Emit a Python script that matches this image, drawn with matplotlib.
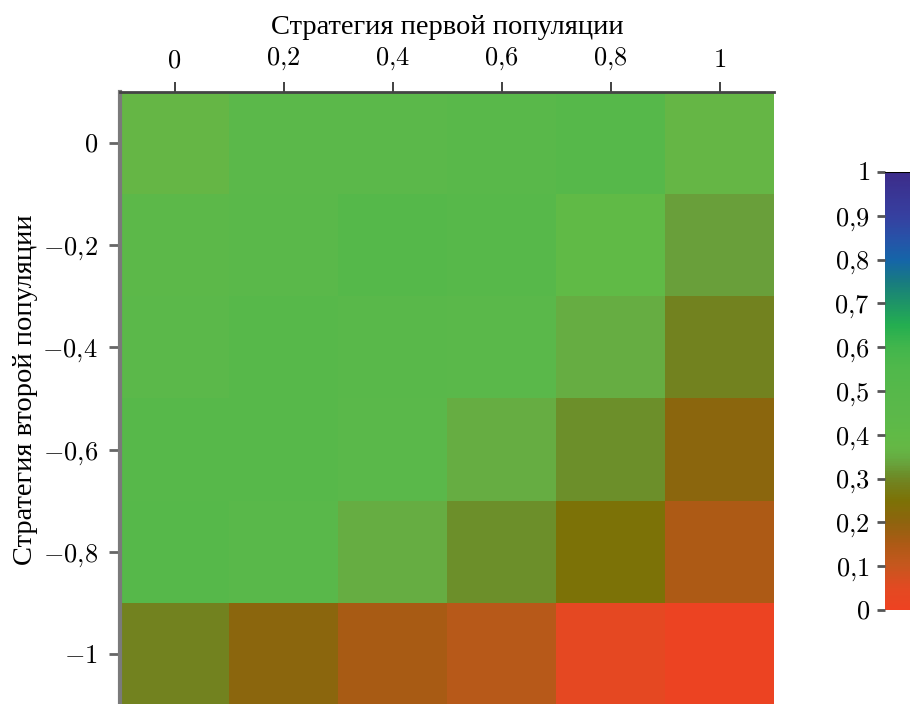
import numpy as np
import matplotlib
matplotlib.use("Agg")
import matplotlib.pyplot as plt
from matplotlib.colors import LinearSegmentedColormap, Normalize
from matplotlib.ticker import FuncFormatter
from matplotlib.cm import ScalarMappable

plt.rcParams['font.family'] = ['Liberation Serif', 'DejaVu Serif']
plt.rcParams['mathtext.fontset'] = 'cm'

# strategies of the two populations
first_strategy = [0, 0.2, 0.4, 0.6, 0.8, 1]
second_strategy = [0, -0.2, -0.4, -0.6, -0.8, -1]

# outcome for each pair of strategies (rows: second population, cols: first)
row_0 = [0.37, 0.45, 0.45, 0.47, 0.50, 0.37]
row_02 = [0.44, 0.46, 0.51, 0.49, 0.40, 0.33]
row_04 = [0.45, 0.49, 0.47, 0.46, 0.35, 0.29]
row_06 = [0.49, 0.49, 0.46, 0.35, 0.31, 0.21]
row_08 = [0.50, 0.47, 0.35, 0.31, 0.25, 0.15]
row_10 = [0.29, 0.21, 0.16, 0.13, 0.04, 0.01]
outcome = np.array([row_0, row_02, row_04, row_06, row_08, row_10])

cbar_ticks = [0, 0.1, 0.2, 0.3, 0.4, 0.5, 0.6, 0.7, 0.8, 0.9, 1]

# red -> olive -> green -> teal -> blue -> violet
cmap = LinearSegmentedColormap.from_list("payoff", [
    (0.00, "#EE4222"),
    (0.05, "#E24A22"),
    (0.10, "#C6571E"),
    (0.15, "#AC5A15"),
    (0.20, "#8E640E"),
    (0.25, "#7C7206"),
    (0.29, "#72821F"),
    (0.31, "#6C8F2A"),
    (0.33, "#69A03A"),
    (0.35, "#66AE42"),
    (0.37, "#65B745"),
    (0.40, "#60BA46"),
    (0.45, "#5BB84A"),
    (0.50, "#56B84A"),
    (0.55, "#50B84B"),
    (0.60, "#42B64C"),
    (0.65, "#24AE50"),
    (0.70, "#1E9566"),
    (0.75, "#187B80"),
    (0.80, "#1565A8"),
    (0.85, "#2752A8"),
    (0.90, "#3640A0"),
    (1.00, "#3C2C8A"),
])
norm = Normalize(0, 1)


def comma_fmt(v, pos=None):
    s = f"{v:g}"
    if s == "-0":
        s = "0"
    return "$" + s.replace(".", "{,}") + "$"


fig = plt.figure(figsize=(9.1, 7.04), dpi=100)
ax = fig.add_axes([120 / 910, -0.002, 654 / 910, 0.872])

xs = np.array(first_strategy)
ys = np.array(second_strategy)
dx = (xs[1] - xs[0]) / 2
dy = (ys[0] - ys[1]) / 2
x_edges = np.concatenate([xs - dx, [xs[-1] + dx]])
y_edges = np.concatenate([ys + dy, [ys[-1] - dy]])
ax.pcolormesh(x_edges, y_edges, outcome, cmap=cmap, norm=norm, shading="flat")
ax.set_xlim(x_edges[0], x_edges[-1])
ax.set_ylim(y_edges[-1], y_edges[0])

ax.xaxis.tick_top()
ax.xaxis.set_label_position("top")
ax.set_xticks(first_strategy)
ax.set_yticks(second_strategy)
ax.xaxis.set_major_formatter(FuncFormatter(comma_fmt))
ax.yaxis.set_major_formatter(FuncFormatter(comma_fmt))
ax.tick_params(axis="x", length=7, width=1.3, color="#333333", labelsize=19, pad=7)
ax.tick_params(axis="y", length=8, width=2, color="#666666", labelsize=19, pad=8)
ax.set_xlabel("Стратегия первой популяции", fontsize=20.5, labelpad=8)
ax.set_ylabel("Стратегия второй популяции", fontsize=20.5)
ax.yaxis.set_label_coords(-0.125, 0.515)

for side in ("right", "bottom"):
    ax.spines[side].set_visible(False)
ax.spines["top"].set_color("#444444")
ax.spines["top"].set_linewidth(2)
ax.spines["left"].set_color("#7a7a7a")
ax.spines["left"].set_linewidth(3)

cax = fig.add_axes([885 / 910, 94 / 704, 0.05, 438 / 704])
cb = fig.colorbar(ScalarMappable(norm=norm, cmap=cmap), cax=cax)
cb.outline.set_visible(False)
cax.axhline(1, color="black", lw=1.5)
cb.set_ticks(cbar_ticks)
cax.yaxis.set_ticks_position("left")
cax.yaxis.set_major_formatter(FuncFormatter(comma_fmt))
cax.tick_params(axis="y", length=6, width=2, color="#555555", labelsize=19, pad=5)

fig.savefig("out.png", dpi=100)
